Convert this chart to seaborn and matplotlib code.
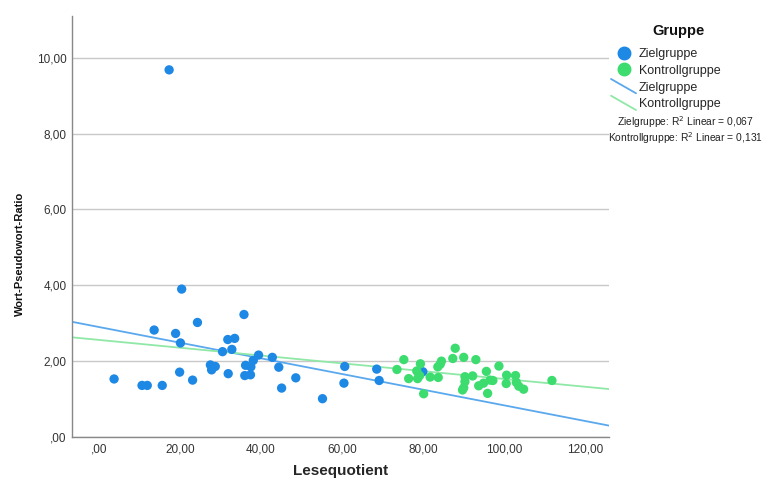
import matplotlib
matplotlib.use("Agg")
import matplotlib.pyplot as plt
import seaborn as sns
import pandas as pd
from matplotlib.lines import Line2D
from matplotlib.legend_handler import HandlerBase

# Zielgruppe
ziel_x = [3.7, 10.6, 11.9, 15.6, 17.3, 13.6, 18.9, 20.1, 20.4, 19.9, 23.1, 24.3,
          27.5, 28.7, 27.8, 30.5, 31.8, 33.5, 32.8, 31.9, 35.8, 36.2, 37.5, 36.0,
          37.4, 38.1, 39.4, 42.8, 44.4, 48.6, 45.1, 55.2, 60.7, 60.5, 68.6, 69.2, 80.0]
ziel_y = [1.53, 1.36, 1.36, 1.36, 9.68, 2.82, 2.73, 2.48, 3.90, 1.71, 1.50, 3.02,
          1.90, 1.86, 1.77, 2.25, 2.57, 2.60, 2.31, 1.67, 3.23, 1.89, 1.85, 1.62,
          1.64, 2.02, 2.16, 2.10, 1.84, 1.56, 1.29, 1.01, 1.86, 1.42, 1.79, 1.49, 1.72]

# Kontrollgruppe
kontroll_x = [73.6, 75.3, 76.5, 78.5, 78.7, 79.2, 79.4, 80.2, 81.8, 83.8, 83.7, 84.3,
              84.6, 87.4, 88.0, 90.1, 90.4, 90.4, 90.1, 89.8, 92.3, 93.1, 95.7, 95.0,
              93.8, 96.6, 97.3, 96.0, 98.8, 100.7, 100.6, 102.9, 103.1, 103.7, 104.9, 111.9]
kontroll_y = [1.78, 2.04, 1.54, 1.74, 1.54, 1.62, 1.93, 1.14, 1.58, 1.57, 1.85, 1.92,
              2.00, 2.07, 2.34, 2.10, 1.59, 1.46, 1.30, 1.24, 1.61, 2.04, 1.73, 1.42,
              1.35, 1.50, 1.49, 1.15, 1.87, 1.63, 1.41, 1.62, 1.44, 1.34, 1.26, 1.49]

groups = ["Zielgruppe", "Kontrollgruppe"]
legend_title = "Gruppe"
r2_labels = ["Zielgruppe: R$^2$ Linear = 0,067", "Kontrollgruppe: R$^2$ Linear = 0,131"]
x_ticks = [0, 20, 40, 60, 80, 100, 120]
y_ticks = [0, 2, 4, 6, 8, 10]

df = pd.DataFrame({
    "Lesequotient": ziel_x + kontroll_x,
    "Ratio": ziel_y + kontroll_y,
    "Gruppe": [groups[0]] * len(ziel_x) + [groups[1]] * len(kontroll_x),
})

pt_colors = {"Zielgruppe": "#1e88e5", "Kontrollgruppe": "#3ddc6e"}
ln_colors = {"Zielgruppe": "#5aa8ee", "Kontrollgruppe": "#8fe8a6"}


def fmt(v):
    s = f"{v:.2f}".replace(".", ",")
    return ",00" if v == 0 else s


class DiagonalLineHandler(HandlerBase):
    def create_artists(self, legend, orig_handle, xdescent, ydescent, width, height, fontsize, trans):
        line = Line2D([-xdescent, -xdescent + width], [height - ydescent + 2, -ydescent - 2],
                      color=orig_handle.get_color(), lw=orig_handle.get_linewidth())
        line.set_transform(trans)
        return [line]


sns.set_style("white")
plt.rcParams["font.family"] = ["Liberation Sans", "DejaVu Sans"]

fig = plt.figure(figsize=(7.63, 4.82), dpi=100)
ax = fig.add_axes([72 / 763, 1 - 437 / 482, (609 - 72) / 763, (437 - 16) / 482])
ax.set_xlim(-6.7, 126)
ax.set_ylim(0, 11.1)

for g in groups:
    sub = df[df["Gruppe"] == g]
    sns.regplot(data=sub, x="Lesequotient", y="Ratio", ax=ax, ci=None, truncate=False,
                scatter=False, line_kws={"color": ln_colors[g], "lw": 1.3, "zorder": 2})
for g in groups:
    sub = df[df["Gruppe"] == g]
    sns.scatterplot(data=sub, x="Lesequotient", y="Ratio", ax=ax, color=pt_colors[g],
                    s=45, edgecolor="none", zorder=3)

ax.set_xlim(-6.7, 126)
ax.set_ylim(0, 11.1)
ax.set_xticks(x_ticks)
ax.set_xticklabels([fmt(v) for v in x_ticks])
ax.set_yticks(y_ticks)
ax.set_yticklabels([fmt(v) for v in y_ticks])
ax.tick_params(axis="both", labelsize=8.5, colors="#333333", length=0, pad=5)
ax.tick_params(axis="y", pad=4)
ax.yaxis.grid(True, color="#c8c8c8", lw=1)
ax.set_axisbelow(True)
for s in ["top", "right"]:
    ax.spines[s].set_visible(False)
for s in ["left", "bottom"]:
    ax.spines[s].set_color("#888888")
    ax.spines[s].set_linewidth(1)

ax.set_xlabel("Lesequotient", fontsize=11, fontweight="bold", labelpad=6)
ax.set_ylabel("")
fig.text(20 / 763, 1 - 254 / 482, "Wort-Pseudowort-Ratio", fontsize=8, fontweight="bold",
         rotation=90, ha="center", va="center", color="#111111")

handles = [
    Line2D([], [], marker="o", ls="none", color=pt_colors["Zielgruppe"], markersize=9),
    Line2D([], [], marker="o", ls="none", color=pt_colors["Kontrollgruppe"], markersize=9),
    Line2D([], [], color=ln_colors["Zielgruppe"], lw=1.3),
    Line2D([], [], color=ln_colors["Kontrollgruppe"], lw=1.3),
]
leg = fig.legend(handles, groups + groups, loc="upper left",
                 bbox_to_anchor=(606 / 763, 1 - 43 / 482), frameon=False,
                 fontsize=9, handlelength=2.0,
                 handletextpad=0.2, labelspacing=0.38, borderaxespad=0,
                 handler_map={handles[2]: DiagonalLineHandler(), handles[3]: DiagonalLineHandler()})
fig.text(652 / 763, 1 - 31 / 482, legend_title, fontsize=10.5, fontweight="bold",
         ha="left", va="center", color="#111111")

fig.text(685 / 763, 1 - 122 / 482, r2_labels[0], fontsize=7.4, ha="center", va="center", color="#222222")
fig.text(685 / 763, 1 - 138 / 482, r2_labels[1], fontsize=7.4, ha="center", va="center", color="#222222")

fig.savefig("out.png", dpi=100)
